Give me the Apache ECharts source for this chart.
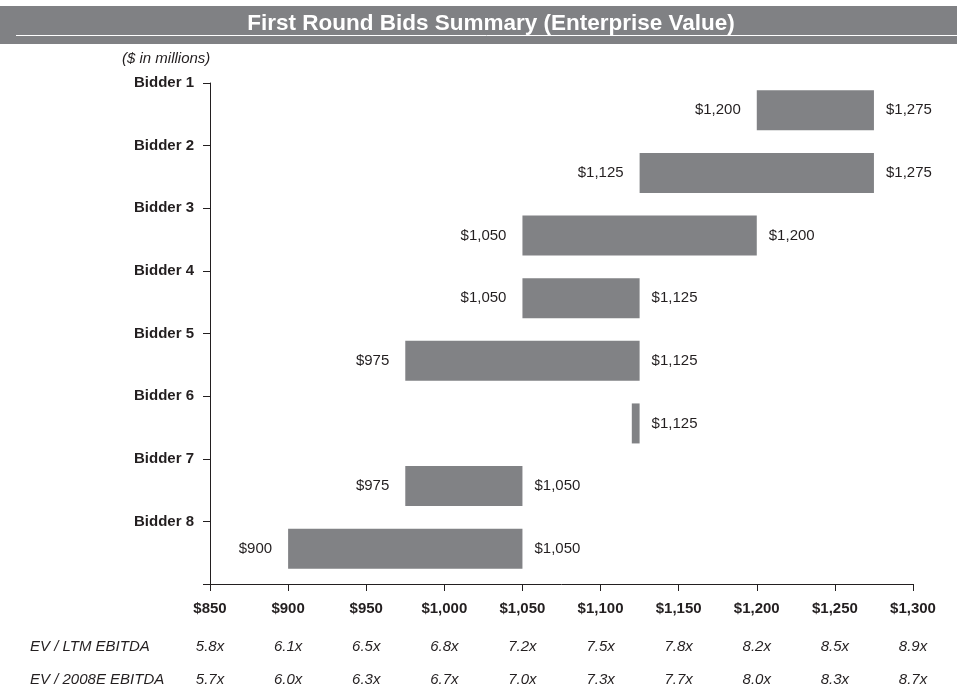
<!DOCTYPE html>
<html>
<head>
<meta charset="utf-8">
<title>First Round Bids Summary</title>
<script src="https://cdn.jsdelivr.net/npm/echarts@6/dist/echarts.min.js"></script>
<style>
  html, body { margin: 0; padding: 0; background: #ffffff; }
  #chart { width: 957px; height: 691px; }
</style>
</head>
<body>
<div id="chart"></div>
<script>
// Bidders and their first-round enterprise value ranges ($ in millions)
const bidders = ['Bidder 1', 'Bidder 2', 'Bidder 3', 'Bidder 4', 'Bidder 5', 'Bidder 6', 'Bidder 7', 'Bidder 8'];
const bidLow  = [1200, 1125, 1050, 1050, 975, 1120, 975, 900];
const bidHigh = [1275, 1275, 1200, 1125, 1125, 1125, 1050, 1050];
// Bidder 6 submitted a single value, so only its high end is labelled
const showLowLabel = [true, true, true, true, true, false, true, true];

// Enterprise value scale and implied EBITDA multiples at each tick
const evTicks = [850, 900, 950, 1000, 1050, 1100, 1150, 1200, 1250, 1300];
const ltmMultiples   = ['5.8x', '6.1x', '6.5x', '6.8x', '7.2x', '7.5x', '7.8x', '8.2x', '8.5x', '8.9x'];
const e2008Multiples = ['5.7x', '6.0x', '6.3x', '6.7x', '7.0x', '7.3x', '7.7x', '8.0x', '8.3x', '8.7x'];

const FONT = '"Liberation Sans", Arial, Helvetica, sans-serif';
const TEXT = '#231f20';
const BAR = '#818285';

const fmtMoney = v => '$' + Number(v).toLocaleString('en-US');
const tickIndex = v => evTicks.indexOf(Math.round(v));

const chart = echarts.init(document.getElementById('chart'), null, { renderer: 'canvas' });

const evMin = evTicks[0];
const evMax = evTicks[evTicks.length - 1];
const evStep = evTicks[1] - evTicks[0];

const multipleAxis = (labels, offset) => ({
  type: 'value', gridIndex: 0, position: 'bottom', offset: offset,
  min: evMin, max: evMax, interval: evStep,
  axisLine: { show: false, onZero: false }, axisTick: { show: false }, splitLine: { show: false },
  axisLabel: {
    margin: 17, fontFamily: FONT, fontSize: 15, fontStyle: 'italic', color: TEXT,
    showMinLabel: true, showMaxLabel: true,
    formatter: v => labels[tickIndex(v)] || ''
  }
});

chart.setOption({
  animation: false,
  backgroundColor: '#ffffff',
  grid: [
    { left: 210, right: 44, top: 83, bottom: 107 },
    { left: 210, right: 44, top: 79, bottom: 111 }
  ],
  xAxis: [
    {
      type: 'value', gridIndex: 0, position: 'bottom',
      min: evMin, max: evMax, interval: evStep,
      axisLine: { show: true, onZero: false, lineStyle: { color: TEXT, width: 1 } },
      axisTick: { show: true, inside: false, length: 7, lineStyle: { color: TEXT } },
      splitLine: { show: false },
      axisLabel: {
        margin: 17, fontFamily: FONT, fontSize: 15, fontWeight: 'bold', color: TEXT,
        showMinLabel: true, showMaxLabel: true,
        formatter: v => fmtMoney(v)
      }
    },
    multipleAxis(ltmMultiples, 38),
    multipleAxis(e2008Multiples, 71),
    {
      type: 'value', gridIndex: 1, min: evMin, max: evMax, show: false
    }
  ],
  yAxis: [
    {
      type: 'value', gridIndex: 0, inverse: true,
      min: 0, max: bidders.length, interval: 1,
      axisLine: { show: true, onZero: false, lineStyle: { color: TEXT, width: 1 } },
      axisTick: { show: true, inside: false, length: 7, lineStyle: { color: TEXT } },
      splitLine: { show: false },
      axisLabel: {
        margin: 16, fontFamily: FONT, fontSize: 15, fontWeight: 'bold', color: TEXT,
        showMinLabel: true, showMaxLabel: true,
        formatter: v => (v < bidders.length ? bidders[v] : '')
      }
    },
    {
      type: 'category', gridIndex: 1, inverse: true, data: bidders, show: false
    }
  ],
  series: [
    {
      name: 'Low bid', type: 'bar', stack: 'bid',
      xAxisIndex: 3, yAxisIndex: 1,
      barWidth: 40,
      itemStyle: { color: 'rgba(0,0,0,0)' },
      emphasis: { disabled: true },
      data: bidLow.map((v, i) => ({
        value: v,
        label: { show: showLowLabel[i] }
      })),
      label: {
        position: 'insideRight', distance: 16,
        fontFamily: FONT, fontSize: 15, color: TEXT,
        formatter: p => fmtMoney(bidLow[p.dataIndex])
      }
    },
    {
      name: 'Bid range', type: 'bar', stack: 'bid',
      xAxisIndex: 3, yAxisIndex: 1,
      barWidth: 40,
      itemStyle: { color: BAR },
      emphasis: { disabled: true },
      data: bidHigh.map((h, i) => h - bidLow[i]),
      label: {
        show: true, position: 'right', distance: 12,
        fontFamily: FONT, fontSize: 15, color: TEXT,
        formatter: p => fmtMoney(bidHigh[p.dataIndex])
      }
    }
  ],
  graphic: [
    {
      type: 'rect', left: 0, top: 6, silent: true,
      shape: { x: 0, y: 0, width: 957, height: 38 },
      style: { fill: '#808184' }
    },
    {
      type: 'line', silent: true,
      shape: { x1: 16, y1: 35.5, x2: 957, y2: 35.5 },
      style: { stroke: '#ffffff', lineWidth: 1 }
    },
    {
      type: 'text', x: 491, y: 24, silent: true,
      style: {
        text: 'First Round Bids Summary (Enterprise Value)',
        fill: '#ffffff', font: 'bold 22.5px ' + FONT,
        align: 'center', verticalAlign: 'middle'
      }
    },
    {
      type: 'text', x: 122, y: 59, silent: true,
      style: {
        text: '($ in millions)', fill: TEXT, font: 'italic 15px ' + FONT,
        align: 'left', verticalAlign: 'middle'
      }
    },
    {
      type: 'text', x: 30, y: 647, silent: true,
      style: {
        text: 'EV / LTM EBITDA', fill: TEXT, font: 'italic 15px ' + FONT,
        align: 'left', verticalAlign: 'middle'
      }
    },
    {
      type: 'text', x: 30, y: 680, silent: true,
      style: {
        text: 'EV / 2008E EBITDA', fill: TEXT, font: 'italic 15px ' + FONT,
        align: 'left', verticalAlign: 'middle'
      }
    }
  ]
});
</script>
</body>
</html>
